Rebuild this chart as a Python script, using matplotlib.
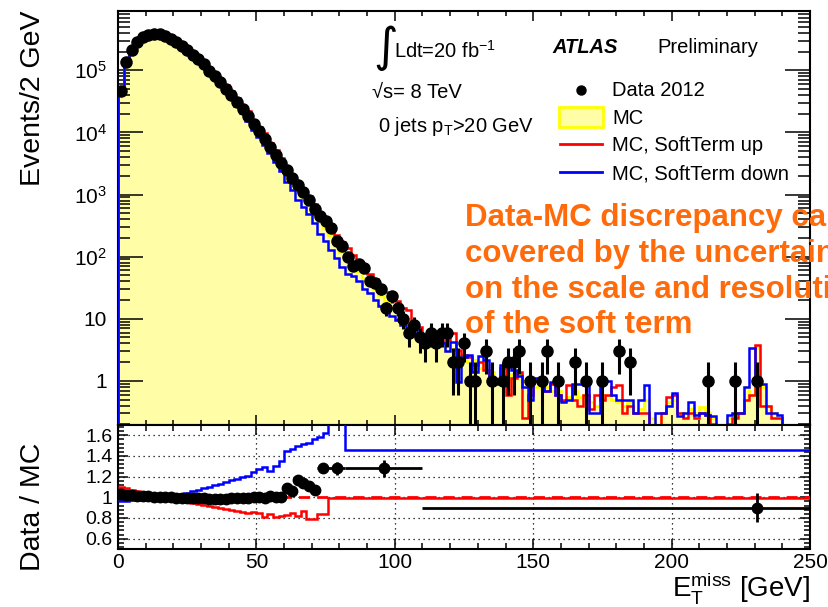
import numpy as np
import matplotlib
matplotlib.use('Agg')
import matplotlib.pyplot as plt
from matplotlib.lines import Line2D
from matplotlib.patches import Rectangle
from matplotlib.ticker import (FixedLocator, LogLocator, MultipleLocator,
                               FuncFormatter, NullFormatter)

plt.rcParams['font.family'] = ['Liberation Sans', 'DejaVu Sans']
plt.rcParams['mathtext.fontset'] = 'custom'
plt.rcParams['mathtext.rm'] = 'Liberation Sans'
plt.rcParams['mathtext.it'] = 'Liberation Sans:italic'
plt.rcParams['mathtext.bf'] = 'Liberation Sans:bold'
plt.rcParams['mathtext.default'] = 'regular'

# ---------------- data (2 GeV bins, 0-250 GeV) ----------------
bin_edges = np.arange(0, 252, 2)

data_counts = [
    47000, 136000, 216000, 290000, 340000, 372000, 385000, 378000, 355000, 320000,
    285000, 245000, 210000, 178000, 150000, 124000, 99000, 80000, 64000, 50000,
    39500, 31000, 24000, 18500, 13800, 10600, 7900, 5800, 4300, 3200,
    2500, 1850, 1420, 1100, 830, 590, 455, 370, 290, 180,
    150, 100, 71, 76, 65, 40, 37, 30, 15, 23,
    15, 10, 6, 8, 5, 4, 6, 4, 6, 6,
    2, 2, 4, 1, 1, 0, 3, 1, 0, 1,
    2, 2, 3, 0, 1, 0, 1, 3, 0, 1,
    0, 0, 2, 0, 1, 0, 0, 1, 0, 0,
    3, 0, 2, 0, 0, 0, 0, 0, 0, 0,
    0, 0, 0, 0, 0, 0, 1, 0, 0, 0,
    0, 1, 0, 0, 0, 1, 0, 0, 0, 0,
    0, 0, 0, 0, 0]

mc_nominal = [
    45500, 133000, 212000, 287000, 335000, 368000, 383000, 378000, 355000, 320000,
    286000, 247000, 211000, 180000, 151000, 125000, 100500, 81000, 65300, 50700,
    39900, 31300, 24100, 18600, 13800, 10550, 7940, 5740, 4280, 3200,
    2290, 1745, 1215, 965, 750, 550, 360, 290, 225, 150,
    118, 92, 72, 58, 46, 37, 30, 24, 19, 16,
    13, 11, 8.5, 7, 5.5, 4.5, 5, 4, 3.6, 3.0,
    3.3, 2.6, 2.4, 2.0, 2.2, 1.6, 1.8, 1.4, 1.1, 1.4,
    1.0, 1.3, 1.3, 1.0, 0.75, 0.8, 0.9, 0.8, 0.7, 0.7,
    0.5, 0.55, 0.7, 0.55, 0.6, 0.45, 0.4, 0.6, 0.6, 0.5,
    0.45, 0.4, 0.45, 0.3, 0.35, 0.5, 0.25, 0, 0.3, 0.45,
    0.5, 0.3, 0.3, 0.35, 0.3, 0.38, 0.3, 0.25, 0, 0,
    0.25, 0.3, 0.3, 0.8, 0.6, 3.4, 0.8, 0.4, 0.3, 0.25,
    0, 0, 0, 0, 0]

mc_softterm_up = [
    41400, 122000, 197200, 270800, 320600, 357300, 375500, 374300, 355000, 323200,
    293300, 256000, 220900, 190500, 161500, 135100, 109800, 89500, 72960, 57290,
    45600, 35980, 28020, 21880, 16050, 12410, 9800, 6830, 5280, 3900,
    2760, 2050, 1480, 1110, 950, 696, 430, 345, 300, 220,
    175, 140, 105, 85, 70, 52, 44, 34, 27, 23,
    19, 15, 14, 8.5, 7.5, 5.5, 6, 4.8, 4.2, 4.6,
    6.0, 3.2, 2.6, 2.4, 1.8, 2.0, 1.5, 1.0, 0.95, 1.6,
    0.6, 1.1, 1.4, 0.25, 0.6, 1.0, 1.1, 0.7, 0.9, 0.6,
    0.5, 0.85, 0.5, 0.4, 0.6, 0.35, 0.6, 0.5, 0.6, 0.8,
    0.85, 0.3, 0.4, 0.3, 0.3, 0.3, 0, 0, 0.3, 0.55,
    0.6, 0.3, 0.25, 0.3, 0.25, 0.3, 0.28, 0.2, 0, 0,
    0.2, 0.25, 0.3, 0.5, 0.6, 3.8, 0.4, 0.4, 0.25, 0.25,
    0, 0, 0, 0, 0]

mc_softterm_down = [
    47200, 137800, 218600, 294400, 341800, 373600, 386900, 379900, 355000, 318400,
    283200, 242200, 204900, 173100, 143100, 116800, 92600, 73600, 58300, 44870,
    34700, 26750, 20420, 15500, 11130, 8310, 6155, 4590, 3290, 2405,
    1580, 1187, 810, 635, 490, 353, 228, 179, 130, 95,
    68, 52, 48, 40, 30, 26, 20, 16, 14, 11,
    9.5, 8, 7, 8.5, 5, 4, 5.2, 3.6, 4.0, 3.0,
    4.2, 0.95, 2.4, 2.6, 1.4, 2.5, 2.2, 0.9, 0.9, 1.8,
    1.8, 1.5, 1.2, 0.8, 0.5, 1.1, 1.1, 0.7, 0.95, 0.6,
    0.45, 0.5, 0.9, 0.9, 0.85, 0.3, 0.3, 1.0, 1.0, 0.6,
    0.5, 0.5, 0.5, 0.3, 0.5, 0.87, 0, 0.3, 0.3, 0.4,
    0.65, 0.27, 0.3, 0.45, 0.28, 0.3, 0.28, 0.27, 0, 0,
    0.28, 0.3, 0.3, 0.8, 3.4, 0.9, 0.9, 0.3, 0.3, 0.28,
    0, 0, 0, 0, 0]

# ratio panel
ratio_fine_x = list(range(1, 73, 2))
ratio_fine_values = [
    1.035, 1.02, 1.02, 1.01, 1.015, 1.01, 1.005, 1.0, 1.0, 1.0,
    0.995, 0.99, 0.995, 0.99, 0.99, 0.99, 0.985, 0.985, 0.98, 0.985,
    0.99, 0.99, 0.995, 0.995, 1.0, 1.005, 0.995, 1.01, 1.005, 1.0,
    1.09, 1.06, 1.17, 1.14, 1.11, 1.07]
ratio_coarse_x = [74, 79, 96, 231]
ratio_coarse_lo = [72, 76, 82, 110]
ratio_coarse_hi = [76, 82, 110, 250]
ratio_coarse_values = [1.28, 1.28, 1.28, 0.90]
ratio_coarse_err = [0.03, 0.06, 0.08, 0.14]

ratio_up_edges = list(range(0, 78, 2)) + [250]
ratio_up_values = [
    1.10, 1.09, 1.075, 1.06, 1.045, 1.03, 1.02, 1.01, 1.0, 0.99,
    0.975, 0.965, 0.955, 0.945, 0.935, 0.925, 0.915, 0.905, 0.895, 0.885,
    0.875, 0.87, 0.86, 0.85, 0.86, 0.85, 0.81, 0.84, 0.81, 0.82,
    0.83, 0.85, 0.82, 0.87, 0.79, 0.79, 0.84, 0.84, 0.99]
ratio_down_edges = list(range(0, 78, 2)) + [82, 250]
ratio_down_values = [
    0.965, 0.965, 0.97, 0.975, 0.98, 0.985, 0.99, 0.995, 1.0, 1.01,
    1.02, 1.03, 1.045, 1.06, 1.075, 1.09, 1.10, 1.115, 1.13, 1.15,
    1.17, 1.18, 1.195, 1.21, 1.245, 1.27, 1.29, 1.25, 1.30, 1.35,
    1.45, 1.47, 1.50, 1.52, 1.53, 1.56, 1.58, 1.62, 1.90, 1.46]

# ---------------- figure ----------------
W, H = 829, 607
fig = plt.figure(figsize=(W / 100, H / 100), dpi=100)

def fx(px):
    return px / W

def fy(py):
    return 1 - py / H

L, R = 118, 810
ax1 = fig.add_axes([fx(L), fy(425), (R - L) / W, (425 - 11) / H])
ax2 = fig.add_axes([fx(L), fy(549), (R - L) / W, (549 - 425) / H], sharex=ax1)

FILL = '#FFFDA6'
YEL = '#FFFF00'
TINY = 1e-3

def pos(v):
    v = np.asarray(v, float)
    return np.where(v > 0, v, TINY)

ax1.set_yscale('log')
ax1.stairs(pos(mc_nominal), bin_edges, fill=True, facecolor=FILL,
           edgecolor='none', baseline=TINY, zorder=1)
ax1.stairs(pos(mc_nominal), bin_edges, color=YEL, lw=2, baseline=TINY, zorder=2)
ax1.stairs(pos(mc_softterm_up), bin_edges, color='#FF0000', lw=1.8, baseline=TINY, zorder=3)
ax1.stairs(pos(mc_softterm_down), bin_edges, color='#0000FF', lw=1.8, baseline=TINY, zorder=4)

centers = 0.5 * (bin_edges[:-1] + bin_edges[1:])
d = np.asarray(data_counts, float)
m = d > 0
err_hi = np.sqrt(d[m])
err_lo = np.where(d[m] > 1, np.sqrt(d[m]), d[m] * 0.999)
ax1.errorbar(centers[m], d[m], yerr=[err_lo, err_hi], fmt='o', color='black',
             ms=8, elinewidth=2.2, capsize=0, zorder=6)

ax1.set_xlim(0, 250)
ax1.set_ylim(0.195, 9e5)

def ylab(v, p):
    if v < 5:
        return '1'
    if v < 50:
        return '10'
    return r'$10^{%d}$' % int(round(np.log10(v)))

ax1.yaxis.set_major_locator(FixedLocator([1, 10, 1e2, 1e3, 1e4, 1e5]))
ax1.yaxis.set_major_formatter(FuncFormatter(ylab))
ax1.yaxis.set_minor_locator(LogLocator(base=10, subs=np.arange(2, 10), numticks=30))
ax1.yaxis.set_minor_formatter(NullFormatter())
ax1.xaxis.set_major_locator(MultipleLocator(50))
ax1.xaxis.set_minor_locator(MultipleLocator(10))
ax1.tick_params(which='both', direction='in', top=True, right=True, width=1.1)
ax1.tick_params(axis='y', which='major', length=18, labelsize=15, pad=8)
ax1.tick_params(axis='y', which='minor', length=8.5)
ax1.tick_params(axis='x', which='major', length=7, labelbottom=False)
ax1.tick_params(axis='x', which='minor', length=3.5)
for s in ax1.spines.values():
    s.set_linewidth(1.5)

# ---------------- ratio panel ----------------
ax2.stairs(ratio_up_values, ratio_up_edges, color='#FF0000', lw=1.8, baseline=None, zorder=3)
ax2.stairs(ratio_down_values, ratio_down_edges, color='#0000FF', lw=1.8, baseline=None, zorder=3)
ax2.axhline(1.0, color='#FF0000', lw=2, ls=(0, (4, 2.5)), zorder=4)
ax2.errorbar(ratio_fine_x, ratio_fine_values, xerr=1, fmt='o', color='black',
             ms=7.5, elinewidth=2, capsize=0, zorder=6)
cx = np.array(ratio_coarse_x, float)
xerr = [cx - np.array(ratio_coarse_lo), np.array(ratio_coarse_hi) - cx]
ax2.errorbar(cx, ratio_coarse_values, xerr=xerr, yerr=ratio_coarse_err, fmt='o',
             color='black', ms=7.5, elinewidth=2, capsize=0, zorder=6)

ax2.set_ylim(0.5, 1.7)
ax2.set_xlim(0, 250)
ax2.yaxis.set_major_locator(FixedLocator([0.6, 0.8, 1.0, 1.2, 1.4, 1.6]))
ax2.yaxis.set_major_formatter(FuncFormatter(lambda v, p: ('%g' % round(v, 2))))
ax2.yaxis.set_minor_locator(MultipleLocator(0.04))
ax2.xaxis.set_major_locator(MultipleLocator(50))
ax2.xaxis.set_minor_locator(MultipleLocator(10))
ax2.tick_params(which='both', direction='in', top=True, right=True, width=1.1)
ax2.tick_params(axis='y', which='major', length=7, labelsize=14, pad=4)
ax2.tick_params(axis='y', which='minor', length=4.5)
ax2.tick_params(axis='x', which='major', length=7, labelsize=15, pad=3)
ax2.tick_params(axis='x', which='minor', length=4)
ax2.grid(True, which='major', color='black', ls=(0, (1, 3)), lw=0.9)
for s in ax2.spines.values():
    s.set_linewidth(1.5)

# ---------------- labels ----------------
fig.text(fx(33), fy(11), 'Events/2 GeV', rotation=90, ha='center', va='top', fontsize=20.5)
fig.text(fx(33), fy(507), 'Data / MC', rotation=90, ha='center', va='center', fontsize=20.5)
fig.text(fx(810), fy(597), r'E$_{T}^{miss}$ [GeV]', ha='right', va='baseline', fontsize=20)

# annotations
fig.text(fx(373), fy(48), '\u222B', fontsize=34, ha='left', va='center',
         family=['DejaVu Sans'])
fig.text(fx(394), fy(58), r'Ldt=20 fb$^{-1}$', fontsize=14.5, va='baseline')
fig.text(fx(372), fy(98), '\u221As= 8 TeV', fontsize=14.5, va='baseline')
fig.text(fx(378), fy(132), r'0 jets p$_{T}$>20 GeV', fontsize=14.5, va='baseline')
fig.text(fx(552), fy(53), 'ATLAS', fontsize=14.5, va='baseline', weight='bold', style='italic')
fig.text(fx(657), fy(53), 'Preliminary', fontsize=14.5, va='baseline')

# legend (manual, ROOT style)
fig.add_artist(Line2D([fx(581)], [fy(90)], marker='o', color='black', ms=6.5, ls='none'))
fig.text(fx(612), fy(96), 'Data 2012', fontsize=14.5, va='baseline')
fig.add_artist(Rectangle((fx(559), fy(127)), (603 - 559) / W, 20 / H,
                         transform=fig.transFigure, facecolor=FILL, edgecolor=YEL, lw=2))
fig.text(fx(612), fy(124), 'MC', fontsize=14.5, va='baseline')
fig.add_artist(Line2D([fx(560), fx(602)], [fy(144), fy(144)], color='#FF0000', lw=2))
fig.text(fx(612), fy(151), 'MC, SoftTerm up', fontsize=14.5, va='baseline')
fig.add_artist(Line2D([fx(560), fx(602)], [fy(172), fy(172)], color='#0000FF', lw=2))
fig.text(fx(612), fy(179), 'MC, SoftTerm down', fontsize=14.5, va='baseline')

# orange comment (runs off the right edge as in the original slide)
orange = '#FF6A0A'
for yy, line in zip([226, 262, 298, 333],
                    ['Data-MC discrepancy can be', 'covered by the uncertainties',
                     'on the scale and resolution', 'of the soft term']):
    fig.text(fx(465), fy(yy), line, fontsize=22.5, weight='bold', color=orange,
             va='baseline')

fig.savefig('out.png', dpi=100)
